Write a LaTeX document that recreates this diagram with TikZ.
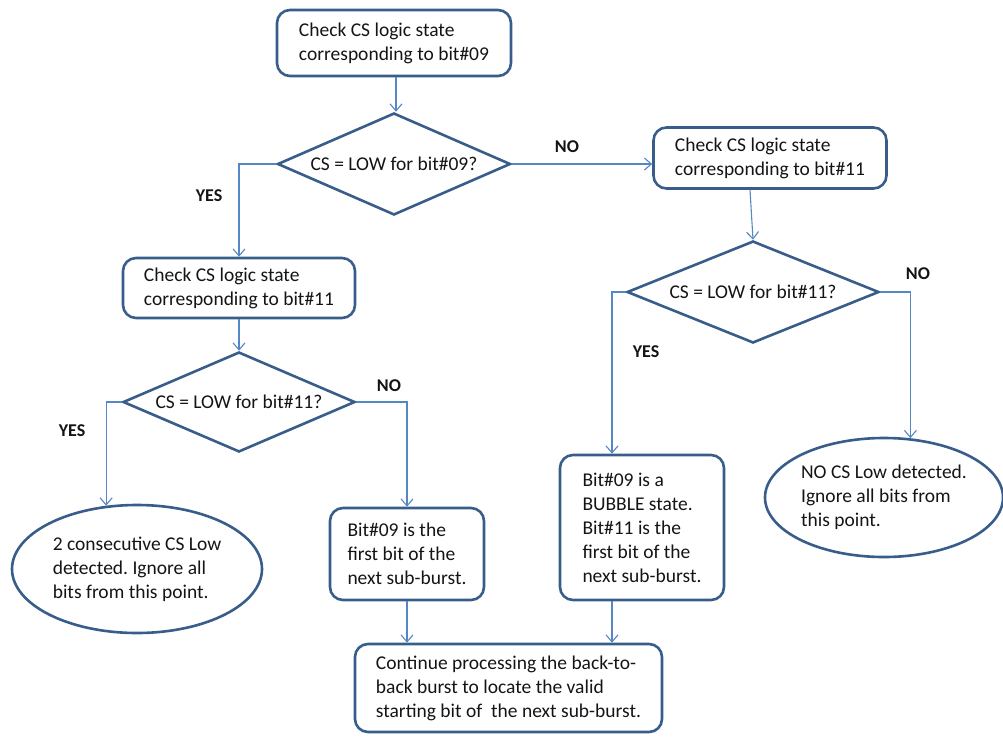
\documentclass[tikz,border=0pt]{standalone}
\usepackage{fontspec}
\setmainfont{Carlito}
\usetikzlibrary{shapes.geometric,arrows.meta,calc}
\definecolor{bord}{RGB}{56,93,138}
\definecolor{conn}{RGB}{84,135,196}
\frenchspacing
\begin{document}
\begin{tikzpicture}[x=1pt,y=-1pt,
  font=\fontsize{19.5}{24}\selectfont,
  every node/.style={text=black!92},
  rbox/.style={draw=bord,line width=2.6pt,rounded corners=13pt,align=left,inner sep=0pt},
  dia/.style={draw=bord,line width=2.6pt,diamond,inner sep=0pt},
  ell/.style={draw=bord,line width=2.6pt,ellipse,align=left,inner sep=0pt},
  lab/.style={font=\fontsize{18}{22}\bfseries\selectfont},
  arr/.style={draw=conn,line width=1.1pt,-{Straight Barb[length=7pt,width=12pt,line width=1.1pt]}}]
\useasboundingbox (0,0) rectangle (1003,736);
% boxes
\node[rbox,minimum width=234,minimum height=66] (b1) at (394,43) {Check CS logic state\\corresponding to bit\#09};
\node[dia,aspect=2.3,minimum width=233,minimum height=102] (d1) at (394,164) {CS = LOW for bit\#09?};
\node[rbox,minimum width=233,minimum height=61] (b2) at (770,158) {Check CS logic state\\corresponding to bit\#11};
\node[dia,aspect=2.47,minimum width=252,minimum height=102] (d2) at (753,292) {CS = LOW for bit\#11?};
\node[rbox,minimum width=232,minimum height=60] (b3) at (239,288) {Check CS logic state\\corresponding to bit\#11};
\node[dia,aspect=2.32,minimum width=232,minimum height=100] (d3) at (239,402) {CS = LOW for bit\#11?};
\node[ell,minimum width=250,minimum height=128] (e1) at (137,569) {2 consecutive CS Low\\detected. Ignore all\\bits from this point.};
\node[rbox,minimum width=154,minimum height=92] (b4) at (407,554) {Bit\#09 is the\\first bit of the\\next sub-burst.};
\node[rbox,minimum width=164,minimum height=145] (b5) at (642,527.5) {Bit\#09 is a\\BUBBLE state.\\Bit\#11 is the\\first bit of the\\next sub-burst.};
\node[ell,minimum width=238,minimum height=119] (e2) at (884,497.5) {NO CS Low detected.\\Ignore all bits from\\this point.};
\node[rbox,minimum width=307,minimum height=88] (f) at (508.5,688) {Continue processing the back-to-\\back burst to locate the valid\\starting bit of~ the next sub-burst.};
% labels
\node[lab] (l1) at (567,147) {NO};
\node[lab] (l2) at (209,196) {YES};
\node[lab] (l3) at (918,274) {NO};
\node[lab] (l4) at (646,352) {YES};
\node[lab] (l5) at (72,431) {YES};
\node[lab] (l6) at (389,386) {NO};
% connectors
\draw[arr] ([xshift=2pt]b1.south) -- ([xshift=2pt]b1.south |- d1.north);
\draw[arr] (d1.east) -- (d1.east -| b2.west);
\draw[arr] ([xshift=-20pt]b2.south) -- (d2.north);
\draw[arr] (d1.west) -| (b3.north);
\draw[arr] (b3.south) -- (d3.north);
\draw[arr] (d3.west) -| (e1.116);
\draw[arr] (d3.east) -| (b4.north);
\draw[arr] (d2.west) -| ([xshift=-30pt]b5.north);
\draw[arr] (d2.east) -| (e2.66);
\draw[arr] (b4.south) -- (b4.south |- f.north);
\draw[arr] ([xshift=-30pt]b5.south) -- ([xshift=-30pt]b5.south |- f.north);
\end{tikzpicture}
\end{document}
